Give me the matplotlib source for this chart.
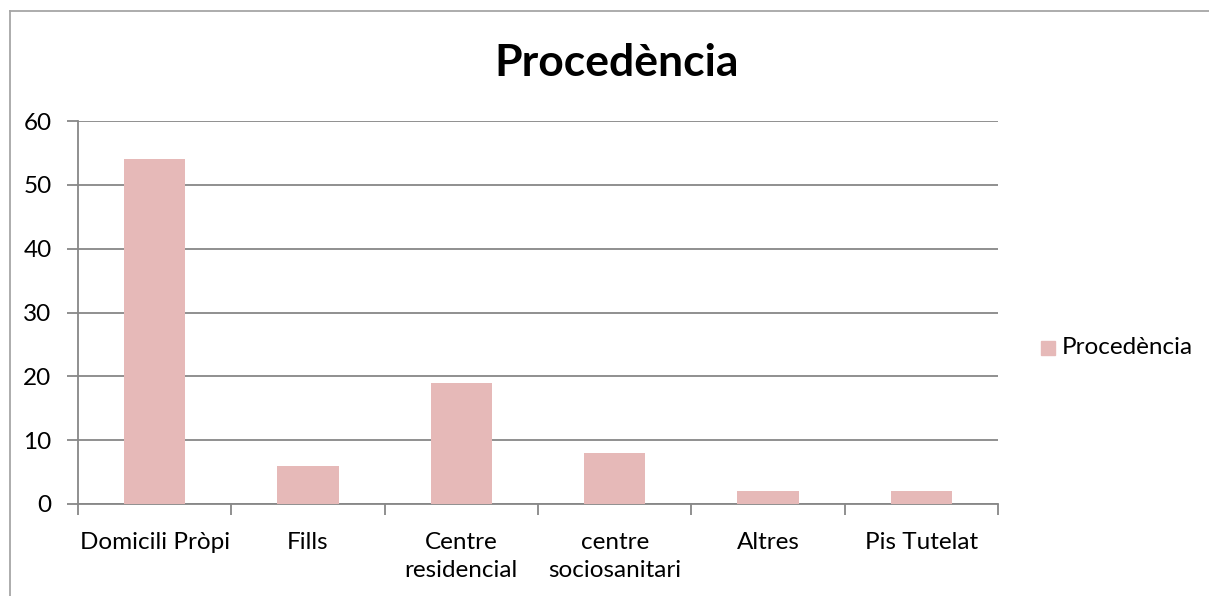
import matplotlib
matplotlib.use("Agg")
import matplotlib.pyplot as plt
import matplotlib.patches as mpatches
from matplotlib.lines import Line2D

plt.rcParams["font.family"] = ["Lato", "DejaVu Sans"]

# dades
categories = ["Domicili Pròpi", "Fills", "Centre\nresidencial",
              "centre\nsociosanitari", "Altres", "Pis Tutelat"]
values = [54, 6, 19, 8, 2, 2]
yticks = [0, 10, 20, 30, 40, 50, 60]
series_name = "Procedència"

BAR_COLOR = "#E6B9B8"
GRID_COLOR = "#878787"

fig = plt.figure(figsize=(12.09, 5.96), dpi=100)
ax = fig.add_axes([78 / 1209, 1 - 504 / 596, 920 / 1209, 383 / 596])

x = list(range(len(categories)))
ax.bar(x, values, width=0.4, color=BAR_COLOR, zorder=3)

ax.set_xlim(-0.5, len(categories) - 0.5)
ax.set_ylim(0, 60)
ax.set_yticks(yticks)
ax.yaxis.grid(True, color=GRID_COLOR, linewidth=1.3, zorder=0)
ax.tick_params(axis="y", length=8, width=1.3, color=GRID_COLOR,
               labelsize=17.5, pad=11)

# etiquetes de categoria sense marques; marques als límits
ax.set_xticks(x)
ax.set_xticklabels(categories, fontsize=17.5, linespacing=1.45, va="top")
ax.tick_params(axis="x", length=0, pad=20)
ax.set_xticks([i - 0.5 for i in range(len(categories) + 1)], minor=True)
ax.tick_params(axis="x", which="minor", length=8, width=1.3, color=GRID_COLOR)

for side in ["top", "right"]:
    ax.spines[side].set_visible(False)
for side in ["left", "bottom"]:
    ax.spines[side].set_color(GRID_COLOR)
    ax.spines[side].set_linewidth(1.3)

# títol
fig.text(617 / 1209, 1 - 63 / 596, series_name, ha="center", va="center",
         fontsize=32, fontweight="bold")

# llegenda
fig.patches.append(mpatches.Rectangle((1041 / 1209, 1 - 355 / 596), 14 / 1209, 14 / 596,
                                      transform=fig.transFigure, color=BAR_COLOR))
fig.text(1062 / 1209, 1 - 348 / 596, series_name, ha="left", va="center", fontsize=17.5)

# vora del gràfic
fig.lines.append(Line2D([9.5 / 1209, 9.5 / 1209], [0, 1 - 10.5 / 596],
                        transform=fig.transFigure, color="#A6A6A6", linewidth=1.3))
fig.lines.append(Line2D([9.5 / 1209, 1], [1 - 10.5 / 596, 1 - 10.5 / 596],
                        transform=fig.transFigure, color="#A6A6A6", linewidth=1.3))

fig.savefig("out.png", dpi=100)
